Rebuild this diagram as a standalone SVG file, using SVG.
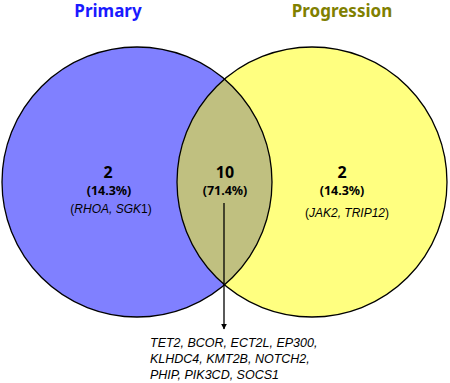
<svg xmlns="http://www.w3.org/2000/svg" width="450" height="383" viewBox="0 0 450 383">
<defs>
<style>
.title{font-family:"Noto Sans","Open Sans",sans-serif;font-weight:bold;font-size:17px;text-anchor:middle}
.num{font-family:"Noto Sans","Open Sans",sans-serif;font-weight:bold;font-size:16px;text-anchor:middle;fill:#000}
.pct{font-family:"Noto Sans","Open Sans",sans-serif;font-weight:bold;font-size:12.5px;text-anchor:middle;fill:#000}
.gene{font-family:"Liberation Sans",Arial,sans-serif;font-size:12px;text-anchor:middle;fill:#000}
.list{font-family:"Liberation Sans",Arial,sans-serif;font-style:italic;font-size:12.5px;fill:#000}
.it{font-style:italic}
.ring{fill:none;stroke:#000;stroke-width:1.3}
</style>
<marker id="ah" viewBox="0 0 10 10" refX="9" refY="5" markerWidth="6" markerHeight="6" orient="auto" markerUnits="userSpaceOnUse">
<path d="M0,0 L10,5 L0,10 z" fill="#000"/>
</marker>
<clipPath id="clipL"><circle cx="137" cy="182" r="135"/></clipPath>
</defs>
<rect width="450" height="383" fill="#fff"/>
<g id="primary">
<circle cx="137" cy="182" r="135" fill="#8080ff"/>
</g>
<g id="progression">
<circle cx="312" cy="182" r="135" fill="#ffff80"/>
</g>
<g id="overlap">
<circle cx="312" cy="182" r="135" fill="#c0c080" clip-path="url(#clipL)"/>
</g>
<circle class="ring" cx="137" cy="182" r="135"/>
<circle class="ring" cx="312" cy="182" r="135"/>
<text class="title" x="108" y="17" fill="#1a1aff">Primary</text>
<text class="title" x="342" y="17" fill="#808000">Progression</text>
<g id="primary-label">
<text class="num" x="108" y="178">2</text>
<text class="pct" x="109" y="195">(14.3%)</text>
<text class="gene" x="111" y="213">(<tspan class="it">RHOA, SGK</tspan>1)</text>
</g>
<g id="overlap-label">
<text class="num" x="225" y="178">10</text>
<text class="pct" x="225" y="195">(71.4%)</text>
</g>
<g id="progression-label">
<text class="num" x="342" y="178">2</text>
<text class="pct" x="342" y="195">(14.3%)</text>
<text class="gene" x="347" y="217">(<tspan class="it">JAK2, TRIP12</tspan>)</text>
</g>
<g id="connectors">
<line x1="224" y1="203" x2="224" y2="329" stroke="#000" stroke-width="1.3" marker-end="url(#ah)"/>
</g>
<g id="gene-list">
<text class="list" x="150" y="347">TET2, BCOR, ECT2L, EP300,</text>
<text class="list" x="150" y="363">KLHDC4, KMT2B, NOTCH2,</text>
<text class="list" x="150" y="379">PHIP, PIK3CD, SOCS1</text>
</g>
</svg>
